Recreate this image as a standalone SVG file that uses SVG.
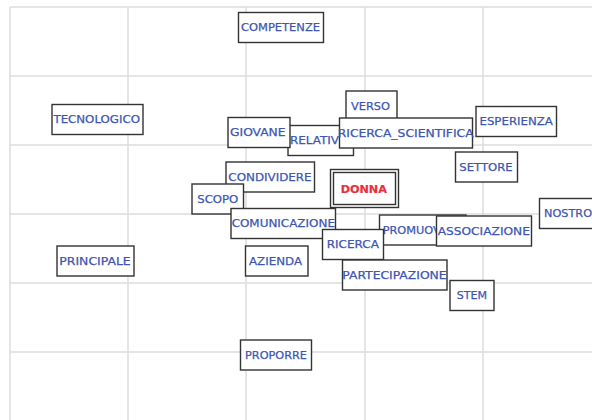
<svg xmlns="http://www.w3.org/2000/svg" width="592" height="420" viewBox="0 0 592 420">
<style>
.grid line{stroke:#dcdcdc;stroke-width:1.5}
.n rect{fill:#fff;stroke:#333;stroke-width:1.4}
.n text{font-family:"DejaVu Sans",Verdana,sans-serif;font-size:11px;fill:#3d56b0;stroke:#3d56b0;stroke-width:0.25;text-anchor:middle}
#donna text{fill:#e8303a;stroke:#e8303a;stroke-width:0.2;font-weight:bold}
</style>
<rect width="592" height="420" fill="#fff"/>
<g class="grid" id="grid">
<line x1="10" y1="7" x2="592" y2="7"/>
<line x1="10" y1="76" x2="592" y2="76"/>
<line x1="10" y1="145" x2="592" y2="145"/>
<line x1="10" y1="214" x2="592" y2="214"/>
<line x1="10" y1="283" x2="592" y2="283"/>
<line x1="10" y1="352" x2="592" y2="352"/>
<line x1="10" y1="7" x2="10" y2="420"/>
<line x1="128" y1="7" x2="128" y2="420"/>
<line x1="246" y1="7" x2="246" y2="420"/>
<line x1="365" y1="7" x2="365" y2="420"/>
<line x1="483" y1="7" x2="483" y2="420"/>
</g>
<g id="connectors"></g>
<g class="n" id="competenze"><rect x="238.5" y="12.5" width="85" height="30"/><text x="280.5" y="31" textLength="79" lengthAdjust="spacingAndGlyphs">COMPETENZE</text></g>
<g class="n" id="tecnologico"><rect x="52" y="104.5" width="91" height="30"/><text x="96.7" y="123" textLength="86.5" lengthAdjust="spacingAndGlyphs">TECNOLOGICO</text></g>
<g class="n" id="verso"><rect x="346" y="91" width="51" height="30"/><text x="370.5" y="109.5" textLength="39" lengthAdjust="spacingAndGlyphs">VERSO</text></g>
<g class="n" id="esperienza"><rect x="476" y="106.5" width="80.5" height="30"/><text x="516.2" y="125" textLength="73.5" lengthAdjust="spacingAndGlyphs">ESPERIENZA</text></g>
<g class="n" id="relativ"><rect x="288" y="125.5" width="65.5" height="30"/><text x="314.5" y="144" textLength="49" lengthAdjust="spacingAndGlyphs">RELATIV</text></g>
<g class="n" id="giovane"><rect x="228" y="117.5" width="62" height="30"/><text x="257.8" y="136" textLength="55.5" lengthAdjust="spacingAndGlyphs">GIOVANE</text></g>
<g class="n" id="ricerca_scientifica"><rect x="339.5" y="118" width="133" height="30"/><text x="405.7" y="136.5" textLength="136" lengthAdjust="spacingAndGlyphs">RICERCA_SCIENTIFICA</text></g>
<g class="n" id="settore"><rect x="455.5" y="152" width="62" height="30"/><text x="486" y="170.5" textLength="53.3" lengthAdjust="spacingAndGlyphs">SETTORE</text></g>
<g class="n" id="donna"><rect x="330.5" y="169.5" width="68" height="38" stroke="#555" stroke-width="1.5"/><rect x="333.5" y="172.5" width="62" height="32" stroke="#555" stroke-width="1.2"/><text x="363.8" y="192.5" textLength="46.3" lengthAdjust="spacingAndGlyphs">DONNA</text></g>
<g class="n" id="nostro"><rect x="539.5" y="198.5" width="70" height="30"/><text x="544" y="217" style="text-anchor:start" textLength="48" lengthAdjust="spacingAndGlyphs">NOSTRO</text></g>
<g class="n" id="condividere"><rect x="226" y="162" width="88.5" height="30"/><text x="270" y="180.5" textLength="83.3" lengthAdjust="spacingAndGlyphs">CONDIVIDERE</text></g>
<g class="n" id="scopo"><rect x="192" y="184" width="51.5" height="30"/><text x="217.8" y="202.5" textLength="41" lengthAdjust="spacingAndGlyphs">SCOPO</text></g>
<g class="n" id="comunicazione"><rect x="231" y="208.5" width="104.5" height="30"/><text x="283.3" y="227" textLength="103.3" lengthAdjust="spacingAndGlyphs">COMUNICAZIONE</text></g>
<g class="n" id="promuov"><rect x="379.5" y="215" width="86.5" height="30"/><text x="382.7" y="233.5" style="text-anchor:start" textLength="58" lengthAdjust="spacingAndGlyphs">PROMUOV</text></g>
<g class="n" id="associazione"><rect x="436.5" y="216" width="95" height="30"/><text x="483.8" y="234.5" textLength="92.3" lengthAdjust="spacingAndGlyphs">ASSOCIAZIONE</text></g>
<g class="n" id="ricerca"><rect x="322.5" y="229.5" width="61" height="30"/><text x="352.8" y="248" textLength="52.3" lengthAdjust="spacingAndGlyphs">RICERCA</text></g>
<g class="n" id="azienda"><rect x="245.5" y="246" width="62.5" height="30"/><text x="275.5" y="264.5" textLength="53" lengthAdjust="spacingAndGlyphs">AZIENDA</text></g>
<g class="n" id="principale"><rect x="57" y="246" width="77" height="30"/><text x="95" y="264.5" textLength="71.3" lengthAdjust="spacingAndGlyphs">PRINCIPALE</text></g>
<g class="n" id="partecipazione"><rect x="342.5" y="260" width="104.5" height="30"/><text x="394.5" y="278.5" textLength="104.3" lengthAdjust="spacingAndGlyphs">PARTECIPAZIONE</text></g>
<g class="n" id="stem"><rect x="450" y="280.5" width="44" height="30"/><text x="471.8" y="299" textLength="30.3" lengthAdjust="spacingAndGlyphs">STEM</text></g>
<g class="n" id="proporre"><rect x="240.5" y="340" width="71" height="30"/><text x="276" y="358.5" textLength="62" lengthAdjust="spacingAndGlyphs">PROPORRE</text></g>
</svg>
